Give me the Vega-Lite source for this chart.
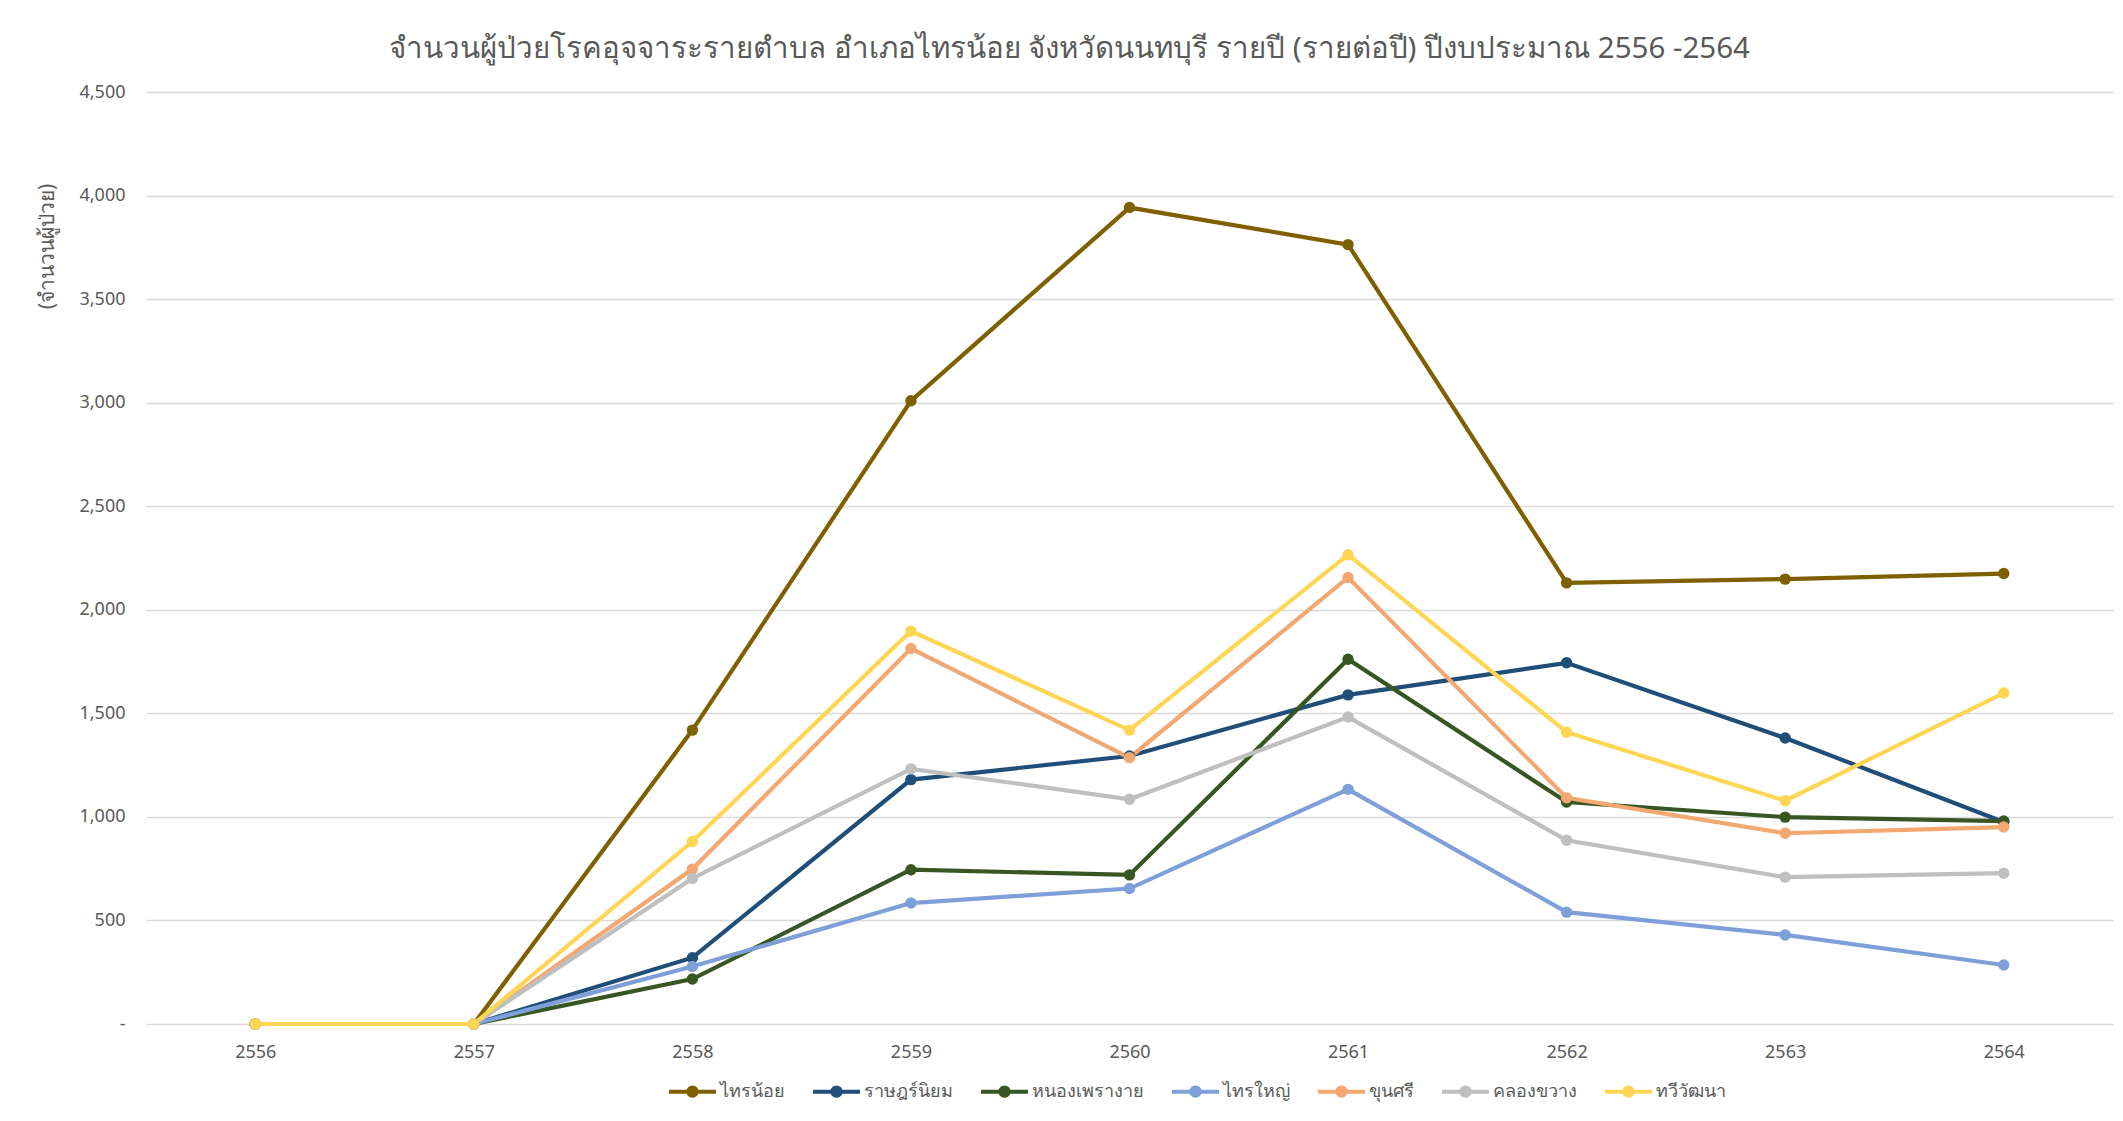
{
  "$schema": "https://vega.github.io/schema/vega-lite/v6.json",
  "autosize": "none",
  "width": 1967,
  "height": 932,
  "padding": {"left": 146, "top": 92, "right": 10, "bottom": 97},
  "background": "white",
  "config": {
    "font": "Noto Sans",
    "view": {"stroke": null}
  },
  "title": {
    "text": "จำนวนผู้ป่วยโรคอุจจาระรายตำบล อำเภอไทรน้อย จังหวัดนนทบุรี รายปี (รายต่อปี) ปีงบประมาณ 2556 -2564",
    "fontSize": 29.5,
    "fontWeight": "normal",
    "color": "#595959",
    "anchor": "middle",
    "frame": "group",
    "dx": -60,
    "offset": 19
  },
  "data": {
    "values": [
      {"year": "2556", "tambon": "ไทรน้อย", "cases": 0},
      {"year": "2557", "tambon": "ไทรน้อย", "cases": 0},
      {"year": "2558", "tambon": "ไทรน้อย", "cases": 1419},
      {"year": "2559", "tambon": "ไทรน้อย", "cases": 3009},
      {"year": "2560", "tambon": "ไทรน้อย", "cases": 3942},
      {"year": "2561", "tambon": "ไทรน้อย", "cases": 3763},
      {"year": "2562", "tambon": "ไทรน้อย", "cases": 2130},
      {"year": "2563", "tambon": "ไทรน้อย", "cases": 2148},
      {"year": "2564", "tambon": "ไทรน้อย", "cases": 2175},
      {"year": "2556", "tambon": "ราษฎร์นิยม", "cases": 0},
      {"year": "2557", "tambon": "ราษฎร์นิยม", "cases": 0},
      {"year": "2558", "tambon": "ราษฎร์นิยม", "cases": 320},
      {"year": "2559", "tambon": "ราษฎร์นิยม", "cases": 1180},
      {"year": "2560", "tambon": "ราษฎร์นิยม", "cases": 1294},
      {"year": "2561", "tambon": "ราษฎร์นิยม", "cases": 1589},
      {"year": "2562", "tambon": "ราษฎร์นิยม", "cases": 1744},
      {"year": "2563", "tambon": "ราษฎร์นิยม", "cases": 1381},
      {"year": "2564", "tambon": "ราษฎร์นิยม", "cases": 975},
      {"year": "2556", "tambon": "หนองเพรางาย", "cases": 0},
      {"year": "2557", "tambon": "หนองเพรางาย", "cases": 0},
      {"year": "2558", "tambon": "หนองเพรางาย", "cases": 217},
      {"year": "2559", "tambon": "หนองเพรางาย", "cases": 745},
      {"year": "2560", "tambon": "หนองเพรางาย", "cases": 720},
      {"year": "2561", "tambon": "หนองเพรางาย", "cases": 1761},
      {"year": "2562", "tambon": "หนองเพรางาย", "cases": 1072},
      {"year": "2563", "tambon": "หนองเพรางาย", "cases": 999},
      {"year": "2564", "tambon": "หนองเพรางาย", "cases": 980},
      {"year": "2556", "tambon": "ไทรใหญ่", "cases": 0},
      {"year": "2557", "tambon": "ไทรใหญ่", "cases": 0},
      {"year": "2558", "tambon": "ไทรใหญ่", "cases": 278},
      {"year": "2559", "tambon": "ไทรใหญ่", "cases": 584},
      {"year": "2560", "tambon": "ไทรใหญ่", "cases": 654},
      {"year": "2561", "tambon": "ไทรใหญ่", "cases": 1133},
      {"year": "2562", "tambon": "ไทรใหญ่", "cases": 540},
      {"year": "2563", "tambon": "ไทรใหญ่", "cases": 430},
      {"year": "2564", "tambon": "ไทรใหญ่", "cases": 285},
      {"year": "2556", "tambon": "ขุนศรี", "cases": 0},
      {"year": "2557", "tambon": "ขุนศรี", "cases": 0},
      {"year": "2558", "tambon": "ขุนศรี", "cases": 748},
      {"year": "2559", "tambon": "ขุนศรี", "cases": 1813},
      {"year": "2560", "tambon": "ขุนศรี", "cases": 1286},
      {"year": "2561", "tambon": "ขุนศรี", "cases": 2156},
      {"year": "2562", "tambon": "ขุนศรี", "cases": 1092},
      {"year": "2563", "tambon": "ขุนศรี", "cases": 921},
      {"year": "2564", "tambon": "ขุนศรี", "cases": 951},
      {"year": "2556", "tambon": "คลองขวาง", "cases": 0},
      {"year": "2557", "tambon": "คลองขวาง", "cases": 0},
      {"year": "2558", "tambon": "คลองขวาง", "cases": 703},
      {"year": "2559", "tambon": "คลองขวาง", "cases": 1232},
      {"year": "2560", "tambon": "คลองขวาง", "cases": 1085},
      {"year": "2561", "tambon": "คลองขวาง", "cases": 1482},
      {"year": "2562", "tambon": "คลองขวาง", "cases": 887},
      {"year": "2563", "tambon": "คลองขวาง", "cases": 709},
      {"year": "2564", "tambon": "คลองขวาง", "cases": 728},
      {"year": "2556", "tambon": "ทวีวัฒนา", "cases": 0},
      {"year": "2557", "tambon": "ทวีวัฒนา", "cases": 0},
      {"year": "2558", "tambon": "ทวีวัฒนา", "cases": 881},
      {"year": "2559", "tambon": "ทวีวัฒนา", "cases": 1897},
      {"year": "2560", "tambon": "ทวีวัฒนา", "cases": 1419},
      {"year": "2561", "tambon": "ทวีวัฒนา", "cases": 2266},
      {"year": "2562", "tambon": "ทวีวัฒนา", "cases": 1409},
      {"year": "2563", "tambon": "ทวีวัฒนา", "cases": 1078},
      {"year": "2564", "tambon": "ทวีวัฒนา", "cases": 1598}
    ]
  },
  "mark": {
    "type": "line",
    "strokeWidth": 4.2,
    "point": {"filled": true, "size": 130}
  },
  "encoding": {
    "x": {
      "field": "year",
      "type": "ordinal",
      "scale": {"type": "point", "padding": 0.5},
      "axis": {
        "title": null,
        "labelAngle": 0,
        "domain": false,
        "ticks": false,
        "grid": false,
        "labelFontSize": 18,
        "labelColor": "#595959",
        "labelPadding": 19
      }
    },
    "y": {
      "field": "cases",
      "type": "quantitative",
      "scale": {"domain": [0, 4500], "nice": false},
      "axis": {
        "title": "(จำนวนผู้ป่วย)",
        "titleFontSize": 21,
        "titleFontWeight": "normal",
        "titleColor": "#595959",
        "titleAngle": 270,
        "titleX": -99,
        "titleY": 154,
        "titleAlign": "center",
        "titleBaseline": "middle",
        "values": [0, 500, 1000, 1500, 2000, 2500, 3000, 3500, 4000, 4500],
        "labelExpr": "datum.value == 0 ? '-' : format(datum.value, ',')",
        "domain": false,
        "ticks": false,
        "grid": true,
        "gridColor": "#D9D9D9",
        "gridWidth": 1.3,
        "labelFontSize": 18,
        "labelColor": "#595959",
        "labelPadding": 21
      }
    },
    "color": {
      "field": "tambon",
      "type": "nominal",
      "sort": null,
      "scale": {
        "domain": ["ไทรน้อย", "ราษฎร์นิยม", "หนองเพรางาย", "ไทรใหญ่", "ขุนศรี", "คลองขวาง", "ทวีวัฒนา"],
        "range": ["#7F6000", "#1F4E79", "#375623", "#7F9FD8", "#F4A871", "#BFBFBF", "#FFD653"]
      },
      "legend": {
        "title": null,
        "orient": "none",
        "direction": "horizontal",
        "legendX": 521,
        "legendY": 974,
        "symbolType": "M-1,0H1M0.18,0A0.18,0.18,0,1,0,-0.18,0A0.18,0.18,0,1,0,0.18,0Z",
        "symbolSize": 2209,
        "symbolStrokeWidth": 4,
        "labelFontSize": 18,
        "labelColor": "#595959",
        "labelOffset": 2,
        "columnPadding": 20,
        "encode": {
          "symbols": {
            "update": {
              "fill": {"scale": "color", "field": "value"},
              "stroke": {"scale": "color", "field": "value"},
              "opacity": {"value": 1}
            }
          }
        }
      }
    }
  }
}
